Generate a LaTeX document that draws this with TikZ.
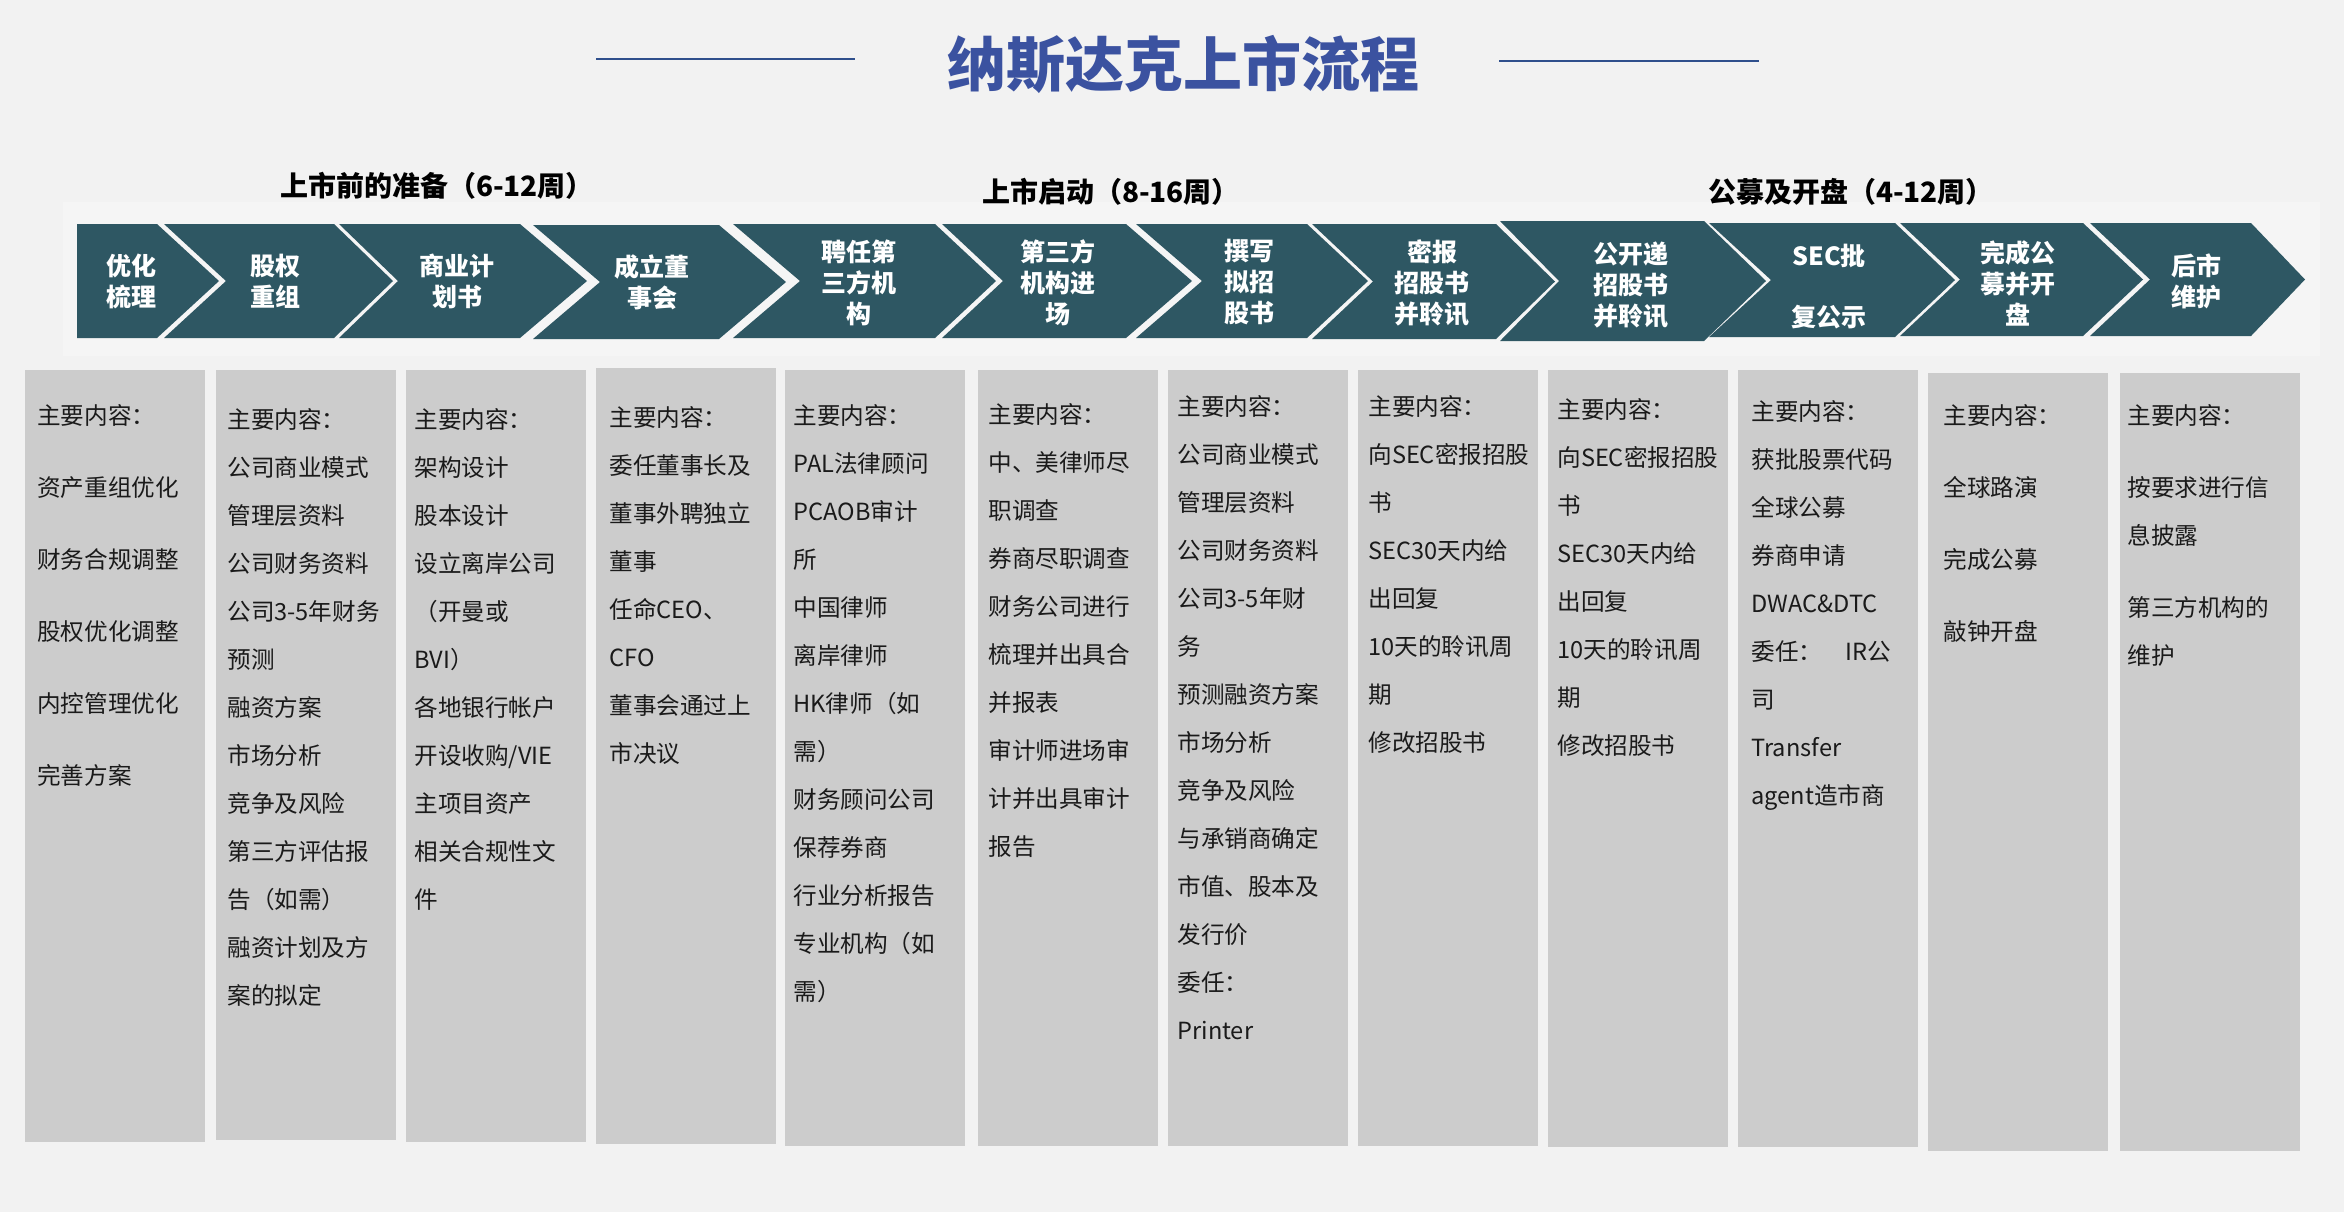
\documentclass[tikz,border=0pt]{standalone}
\usepackage{fontspec}
\setmainfont{Noto Sans CJK SC}
\definecolor{bg}{HTML}{F2F2F2}
\definecolor{panel}{HTML}{F5F5F5}
\definecolor{chev}{HTML}{2E5763}
\definecolor{boxgray}{HTML}{CCCCCC}
\definecolor{titleblue}{HTML}{3B52A0}
\definecolor{lineblue}{HTML}{2F4F8C}
\definecolor{bodytext}{HTML}{1A1A1A}
\newcommand\chevshape[6]{% x0, x1, tip, notch, top, bottom
  \fill[chev] (#1,#5) -- (#2,#5) -- (#3,{(#5+#6)/2}) -- (#2,#6) -- (#1,#6) -- ({#1+#4},{(#5+#6)/2}) -- cycle;}
\newcommand\graybox[3]{% x, top, bottom
  \fill[boxgray] (#1,#2) rectangle ({#1+180},#3);}
\begin{document}
\begin{tikzpicture}[x=0.5pt,y=-0.5pt,
  chevtext/.style={text=white, font=\bfseries\fontsize{12.5pt}{15.5pt}\selectfont, align=center, inner sep=0pt},
  boxtext/.style={anchor=base west, text width=100pt, align=left, inner sep=0pt, text=bodytext, font=\fontsize{11.8pt}{24pt}\selectfont},
  phase/.style={font=\bfseries\fontsize{14pt}{16pt}\selectfont, text=black, inner sep=0pt},
  titleline/.style={draw=lineblue, line width=1.3pt}]
\fill[bg] (0,0) rectangle (2344,1212);
\useasboundingbox (0,0) rectangle (2344,1212);
\fill[panel] (63,202) rectangle (2320,356);
% title
\node[font=\bfseries\fontsize{29.5pt}{32pt}\selectfont, text=titleblue, inner sep=0pt] (title) at (1183,64) {纳斯达克上市流程};
\coordinate (l1a) at (596,59); \coordinate (l1b) at (855,59);
\coordinate (l2a) at (1499,61); \coordinate (l2b) at (1759,61);
\draw[titleline] (l1a) -- (l1b);
\draw[titleline] (l2a) -- (l2b);
% phase labels
\node[phase] (p1) at (437,186) {上市前的准备（6-12周）};
\node[phase] (p2) at (1111,192) {上市启动（8-16周）};
\node[phase] (p3) at (1851,192) {公募及开盘（4-12周）};
% chevrons
\chevshape{77}{157}{219}{0}{224}{338}
\chevshape{164}{334}{393}{62}{224}{338}
\chevshape{339}{520}{587}{59}{224}{338}
\chevshape{533}{719}{786}{67}{225}{339}
\chevshape{733}{935}{996}{67}{224}{338}
\chevshape{942}{1126}{1192}{61}{224}{338}
\chevshape{1136}{1307}{1368}{66}{224}{338}
\chevshape{1312}{1496}{1555}{61}{224}{339}
\chevshape{1500}{1704}{1766}{59}{221}{341}
\chevshape{1709}{1895}{1955}{62}{223}{337}
\chevshape{1900}{2083}{2143}{60}{223}{336}
\chevshape{2090}{2251}{2305}{60}{223}{336}
\node[chevtext] (c1) at (131,281) {优化\\梳理};
\node[chevtext] (c2) at (275,281) {股权\\重组};
\node[chevtext] (c3) at (457,281) {商业计\\划书};
\node[chevtext] (c4) at (652,282) {成立董\\事会};
\node[chevtext] (c5) at (859,283) {聘任第\\三方机\\构};
\node[chevtext] (c6) at (1058,283) {第三方\\机构进\\场};
\node[chevtext] (c7) at (1249,282) {撰写\\拟招\\股书};
\node[chevtext] (c8) at (1432,283) {密报\\招股书\\并聆讯};
\node[chevtext] (c9) at (1631,285) {公开递\\招股书\\并聆讯};
\node[chevtext] (c10) at (1829,287) {SEC批\\[15pt]复公示};
\node[chevtext] (c11) at (2018,283) {完成公\\募并开\\盘};
\node[chevtext] (c12) at (2196,281) {后市\\维护};
% gray boxes
\graybox{25}{370}{1142}
\graybox{216}{370}{1140}
\graybox{406}{370}{1142}
\graybox{596}{368}{1144}
\graybox{785}{370}{1146}
\graybox{978}{370}{1146}
\graybox{1168}{370}{1146}
\graybox{1358}{370}{1146}
\graybox{1548}{370}{1147}
\graybox{1738}{370}{1147}
\graybox{1928}{373}{1151}
\graybox{2120}{373}{1151}
% box texts
\node[boxtext] (b1) at (37,424) {主要内容：\\[12pt]资产重组优化\\[12pt]财务合规调整\\[12pt]股权优化调整\\[12pt]内控管理优化\\[12pt]完善方案};
\node[boxtext] (b2) at (227,428) {主要内容：\\公司商业模式\\管理层资料\\公司财务资料\\公司3-5年财务\\预测\\融资方案\\市场分析\\竞争及风险\\第三方评估报\\告（如需）\\融资计划及方\\案的拟定};
\node[boxtext] (b3) at (414,428) {主要内容：\\架构设计\\股本设计\\设立离岸公司\\（开曼或\\BVI）\\各地银行帐户\\开设收购/VIE\\主项目资产\\相关合规性文\\件};
\node[boxtext] (b4) at (609,426) {主要内容：\\委任董事长及\\董事外聘独立\\董事\\任命CEO、\\CFO\\董事会通过上\\市决议};
\node[boxtext] (b5) at (793,424) {主要内容：\\PAL法律顾问\\PCAOB审计\\所\\中国律师\\离岸律师\\HK律师（如\\需）\\财务顾问公司\\保荐券商\\行业分析报告\\专业机构（如\\需）};
\node[boxtext] (b6) at (988,423) {主要内容：\\中、美律师尽\\职调查\\券商尽职调查\\财务公司进行\\梳理并出具合\\并报表\\审计师进场审\\计并出具审计\\报告};
\node[boxtext] (b7) at (1177,415) {主要内容：\\公司商业模式\\管理层资料\\公司财务资料\\公司3-5年财\\务\\预测融资方案\\市场分析\\竞争及风险\\与承销商确定\\市值、股本及\\发行价\\委任：\\Printer};
\node[boxtext] (b8) at (1368,415) {主要内容：\\向SEC密报招股\\书\\SEC30天内给\\出回复\\10天的聆讯周\\期\\修改招股书};
\node[boxtext] (b9) at (1557,418) {主要内容：\\向SEC密报招股\\书\\SEC30天内给\\出回复\\10天的聆讯周\\期\\修改招股书};
\node[boxtext] (b10) at (1751,420) {主要内容：\\获批股票代码\\全球公募\\券商申请\\DWAC\&DTC\\委任：　IR公\\司\\Transfer\\agent造市商};
\node[boxtext] (b11) at (1943,424) {主要内容：\\[12pt]全球路演\\[12pt]完成公募\\[12pt]敲钟开盘};
\node[boxtext] (b12) at (2127,424) {主要内容：\\[12pt]按要求进行信\\息披露\\[12pt]第三方机构的\\维护};
\end{tikzpicture}
\end{document}
